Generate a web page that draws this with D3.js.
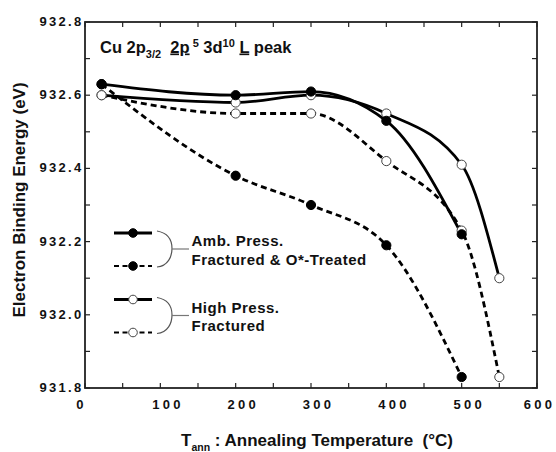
<!DOCTYPE html>
<html><head><meta charset="utf-8">
<script src="https://cdn.jsdelivr.net/npm/d3@7"></script>
<style>
html,body{margin:0;padding:0;background:#fff;}
text{font-family:"Liberation Sans",Arial,sans-serif;font-weight:bold;fill:#111;}
</style></head>
<body><svg id="c" width="556" height="452"></svg>
<script>
// ---- data ----
const ambTemps = [22, 200, 300, 400, 500];
const ambSolid = [932.63, 932.60, 932.61, 932.53, 932.22];
const ambDashed = [932.63, 932.38, 932.30, 932.19, 931.83];
const highTemps = [22, 200, 300, 400, 500, 550];
const highSolid = [932.60, 932.58, 932.60, 932.55, 932.41, 932.10];
const highDashed = [932.60, 932.55, 932.55, 932.42, 932.23, 931.83];
const xTicks = [0, 100, 200, 300, 400, 500, 600];
const yTicks = [931.8, 932.0, 932.2, 932.4, 932.6, 932.8];
const legendGroups = [
  {line1: "Amb. Press.", line2: "Fractured & O*-Treated", filled: true},
  {line1: "High Press.", line2: "Fractured", filled: false}
];

const svg = d3.select("#c");
const L = 85, R = 537, T = 22, B = 388;
const x = d3.scaleLinear().domain([0, 600]).range([L, R]);
const y = d3.scaleLinear().domain([931.8, 932.8]).range([B, T]);

// frame
svg.append("rect").attr("x", L).attr("y", T).attr("width", R - L).attr("height", B - T)
  .attr("fill", "none").attr("stroke", "#222").attr("stroke-width", 1.8);

// ticks (inward) on all four sides
const tl = 5;
const xAll = d3.range(0, 601, 50), yAll = d3.range(0, 11).map(i => 931.8 + i * 0.1);
const tk = svg.append("g").attr("stroke", "#222").attr("stroke-width", 1.2);
xAll.forEach(v => {
  tk.append("line").attr("x1", x(v)).attr("x2", x(v)).attr("y1", B).attr("y2", B - tl);
  tk.append("line").attr("x1", x(v)).attr("x2", x(v)).attr("y1", T).attr("y2", T + tl);
});
yAll.forEach(v => {
  tk.append("line").attr("y1", y(v)).attr("y2", y(v)).attr("x1", L).attr("x2", L + tl);
  tk.append("line").attr("y1", y(v)).attr("y2", y(v)).attr("x1", R).attr("x2", R - tl);
});

// tick labels
svg.append("g").selectAll("text").data(xTicks).join("text")
  .attr("x", d => x(d) + (d === 0 ? -5 : d === 600 ? 1 : 6) + 1.6).attr("y", 408.5)
  .attr("text-anchor", "middle").attr("font-size", 13).attr("letter-spacing", 3.3)
  .text(d => d);
svg.append("g").selectAll("text").data(yTicks).join("text")
  .attr("x", 83.5).attr("y", d => y(d) + 4)
  .attr("text-anchor", "end").attr("font-size", 13).attr("letter-spacing", 2.3)
  .text(d => d.toFixed(1));

// axis titles
svg.append("text").attr("transform", "translate(25,200) rotate(-90)")
  .attr("text-anchor", "middle").attr("font-size", 17)
  .text("Electron Binding Energy (eV)");
const xt = svg.append("text").attr("x", 181).attr("y", 446).attr("font-size", 17)
  .style("white-space", "pre");
xt.append("tspan").text("T");
xt.append("tspan").attr("font-size", 10.5).attr("dy", 5).text("ann");
xt.append("tspan").attr("dy", -5).text(" : Annealing Temperature  (°C)");

// chart title
const tt = svg.append("text").attr("x", 100).attr("y", 52.5).attr("font-size", 16.5)
  .style("white-space", "pre");
tt.append("tspan").text("Cu 2p");
tt.append("tspan").attr("font-size", 11).attr("dy", 5).text("3/2");
tt.append("tspan").attr("dy", -5).text("  ");
tt.append("tspan").style("text-decoration", "underline").text("2p");
tt.append("tspan").attr("font-size", 11).attr("dy", -6).text(" 5");
tt.append("tspan").attr("dy", 6).text(" 3d");
tt.append("tspan").attr("font-size", 11).attr("dy", -6).text("10");
tt.append("tspan").attr("dy", 6).text(" ");
tt.append("tspan").style("text-decoration", "underline").text("L");
tt.append("tspan").text(" peak");

// curves
const mk = (xs, ys) => xs.map((t, i) => [t, ys[i]]);
const series = [
  {pts: mk(ambTemps, ambSolid), dash: null, filled: true},
  {pts: mk(ambTemps, ambDashed), dash: "6,4", filled: true},
  {pts: mk(highTemps, highSolid), dash: null, filled: false},
  {pts: mk(highTemps, highDashed), dash: "6,4", filled: false}
];
const line = d3.line().x(d => x(d[0])).y(d => y(d[1])).curve(d3.curveMonotoneX);
series.forEach(s => {
  svg.append("path").attr("d", line(s.pts)).attr("fill", "none")
    .attr("stroke", "#000").attr("stroke-width", 2.8)
    .attr("stroke-dasharray", s.dash);
});
// markers: open first, filled on top
[...series].sort((a, b) => a.filled - b.filled).forEach(s => {
  svg.append("g").selectAll("circle").data(s.pts).join("circle")
    .attr("cx", d => x(d[0])).attr("cy", d => y(d[1])).attr("r", 4.6)
    .attr("fill", s.filled ? "#000" : "#fff")
    .attr("stroke", s.filled ? "#000" : "#444").attr("stroke-width", 1);
});

// legend
legendGroups.forEach((g, i) => {
  const y0 = 233 + i * 66.5;
  const y1 = y0 + 33;
  const gg = svg.append("g");
  gg.append("line").attr("x1", 114).attr("x2", 152).attr("y1", y0).attr("y2", y0)
    .attr("stroke", "#000").attr("stroke-width", 2.8);
  gg.append("line").attr("x1", 114).attr("x2", 152).attr("y1", y1).attr("y2", y1)
    .attr("stroke", "#000").attr("stroke-width", 2.2).attr("stroke-dasharray", "5,3.5");
  [y0, y1].forEach(yy => gg.append("circle").attr("cx", 133).attr("cy", yy).attr("r", 4.3)
    .attr("fill", g.filled ? "#000" : "#fff").attr("stroke", g.filled ? "#000" : "#444").attr("stroke-width", 1));
  // brace
  const ym = (y0 + y1) / 2 - 3;
  gg.append("path")
    .attr("d", `M157,${y0-2} C168,${y0} 172,${ym-6} 172,${ym+2} C172,${ym+10} 168,${y1} 157,${y1+1}`)
    .attr("fill", "none").attr("stroke", "#555").attr("stroke-width", 1.2);
  gg.append("line").attr("x1", 172).attr("x2", 189).attr("y1", ym + 2.5).attr("y2", ym + 2.5)
    .attr("stroke", "#777").attr("stroke-width", 1.2);
  gg.append("text").attr("x", 191.5).attr("y", y0 + 13.3).attr("font-size", 15)
    .attr("letter-spacing", 0.5).text(g.line1);
  gg.append("text").attr("x", 191.5).attr("y", y0 + 31.7).attr("font-size", 15)
    .attr("letter-spacing", 0.5).text(g.line2);
});
</script></body></html>
